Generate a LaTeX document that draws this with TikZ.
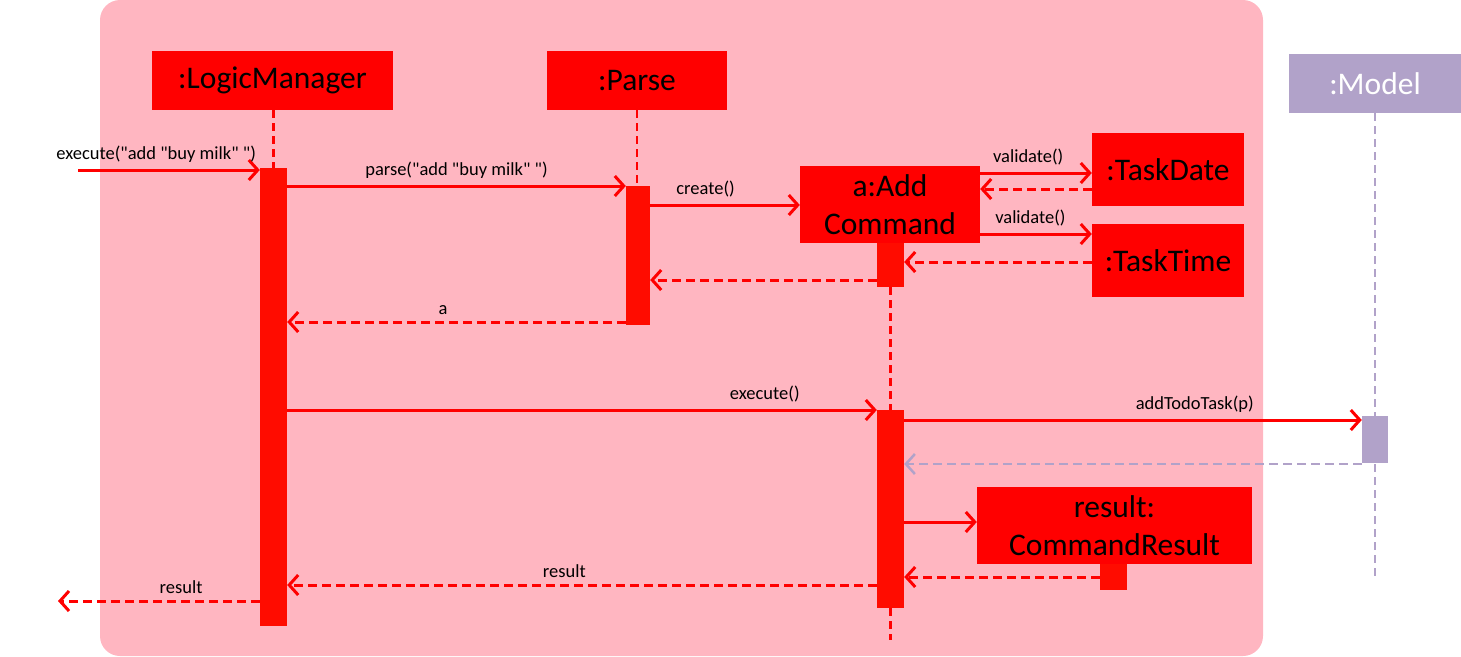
\documentclass[tikz,border=0pt]{standalone}
\usepackage{fontspec}
\setmainfont{Carlito}
\usetikzlibrary{arrows.meta}
\definecolor{bgpink}{RGB}{255,182,193}
\definecolor{objred}{RGB}{255,0,0}
\definecolor{barred}{RGB}{255,12,0}
\definecolor{modelpurple}{RGB}{177,162,201}
\newcommand{\dq}{\textquotedbl}
\begin{document}
\begin{tikzpicture}[x=1pt,y=-1pt,
	obj/.style={fill=objred,inner sep=0,font=\fontsize{31.5}{38}\selectfont,align=center},
	act/.style={fill=barred,minimum width=27pt,inner sep=0},
	life/.style={objred,line width=2.5pt,dash pattern=on 8pt off 5pt},
	msg/.style={objred,line width=3pt,-{Straight Barb[length=9pt,width=20pt]}},
	ret/.style={msg,dash pattern=on 9pt off 5pt},
	lbl/.style={black,font=\fontsize{18.5}{22}\selectfont,above=4pt,inner sep=2pt}]
\useasboundingbox (0,0) rectangle (1461,656);
\fill[bgpink,rounded corners=20pt] (100,0) rectangle (1263,656);

\node[obj,minimum width=241pt,minimum height=59pt] (lm) at (272.5,80.5) {:LogicManager};
\node[obj,minimum width=180pt,minimum height=59pt] (parse) at (637,80.5) {:Parse};
\node[obj,minimum width=180pt,minimum height=77pt] (add) at (890,204.5) {a:Add\\Command};
\node[obj,minimum width=152pt,minimum height=73pt] (tdate) at (1168,169.5) {:TaskDate};
\node[obj,minimum width=152pt,minimum height=73pt] (ttime) at (1168,260.5) {:TaskTime};
\node[obj,fill=modelpurple,text=white,minimum width=172pt,minimum height=59pt] (model) at (1375,83.5) {:Model};
\node[obj,minimum width=275pt,minimum height=77pt] (res) at (1114.5,525.5) {result:\\CommandResult};

\coordinate (lmx) at (273.5,0);
\coordinate (addend) at (890.5,640);
\coordinate (modelend) at (1375,576);
\draw[life] (lmx |- lm.south) -- (273.5,168);
\draw[life] (parse.south) -- (637,186);
\draw[life] (890.5,287) -- (890.5,410);
\draw[life] (890.5,608) -- (addend);
\draw[life,modelpurple] (model.south) -- (modelend);

\node[act,minimum height=458pt] (lmact) at (273.5,397) {};
\node[act,minimum width=24pt,minimum height=139pt] (parseact) at (638,255.5) {};
\node[act,minimum height=44pt] (addact1) at (890.5,265) {};
\node[act,minimum height=198pt] (addact2) at (890.5,509) {};
\node[act,fill=modelpurple,minimum width=26pt,minimum height=47pt] (modelact) at (1375,439.5) {};
\node[act,minimum height=26pt] (resact) at (1113.5,577) {};

\coordinate (start) at (78,170);
\coordinate (caller) at (58,601);
\draw[msg] (start) -- node[lbl,pos=0.43]{execute(\dq add \dq buy milk\dq{} \dq)} (lmact.west |- 0,170);
\draw[msg] (lmact.east |- 0,186) -- node[lbl]{parse(\dq add \dq buy milk\dq{} \dq)} (parseact.west |- 0,186);
\draw[msg] (parseact.east |- 0,205) -- node[lbl,pos=0.37]{create()} (add.west |- 0,205);
\draw[msg] (add.east |- 0,173) -- node[lbl,pos=0.43]{validate()} (tdate.west |- 0,173);
\draw[ret] (tdate.west |- 0,189) -- (add.east |- 0,189);
\draw[msg] (add.east |- 0,234) -- node[lbl,pos=0.45]{validate()} (ttime.west |- 0,234);
\draw[ret] (ttime.west |- 0,262) -- (addact1.east |- 0,262);
\draw[ret] (addact1.west |- 0,280) -- (parseact.east |- 0,280);
\draw[ret] (parseact.west |- 0,322) -- node[lbl,pos=0.54]{a} (lmact.east |- 0,322);
\draw[msg] (lmact.east |- 0,410) -- node[lbl,pos=0.81]{execute()} (addact2.west |- 0,410);
\draw[msg] (addact2.east |- 0,420) -- node[lbl,pos=0.635]{addTodoTask(p)} (modelact.west |- 0,420);
\draw[ret,modelpurple,line width=2.5pt] (modelact.west |- 0,464) -- (addact2.east |- 0,464);
\draw[msg] (addact2.east |- 0,522) -- (res.west |- 0,522);
\draw[ret] (resact.west |- 0,577) -- (addact2.east |- 0,577);
\draw[ret] (addact2.west |- 0,585) -- node[lbl,pos=0.53]{result} (lmact.east |- 0,585);
\draw[ret] (lmact.west |- 0,601) -- node[lbl,pos=0.39]{result} (caller);
\end{tikzpicture}
\end{document}
